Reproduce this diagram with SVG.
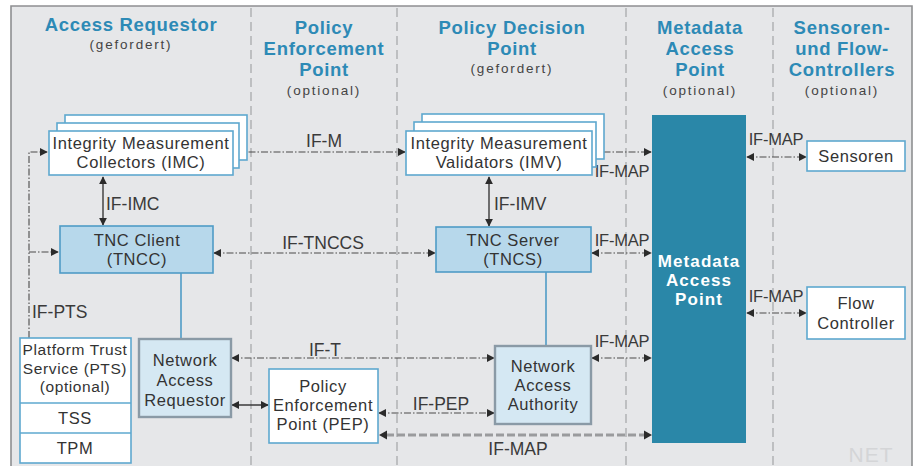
<svg xmlns="http://www.w3.org/2000/svg" width="918" height="466" viewBox="0 0 918 466">
  <defs>
    <style>
      .hdr { font-family: "Liberation Sans", Arial, sans-serif; font-weight: bold; font-size: 18.5px; fill: #2d8ab6; text-anchor: middle; letter-spacing: 0.7px; }
      .sub { font-family: "Liberation Sans", Arial, sans-serif; font-size: 13.5px; fill: #444; text-anchor: middle; letter-spacing: 1.8px; }
      .lbl { font-family: "Liberation Sans", Arial, sans-serif; font-size: 16.5px; fill: #333; text-anchor: middle; letter-spacing: 0.6px; }
      .pts { font-family: "Liberation Sans", Arial, sans-serif; font-size: 15.5px; fill: #333; text-anchor: middle; letter-spacing: 0.6px; }
      .if { font-family: "Liberation Sans", Arial, sans-serif; font-size: 17.5px; fill: #3a3a3a; }
      .ifs { font-family: "Liberation Sans", Arial, sans-serif; font-size: 16.5px; fill: #3a3a3a; letter-spacing: -0.2px; text-anchor: middle; }
      .mapt { font-family: "Liberation Sans", Arial, sans-serif; font-weight: bold; font-size: 17px; fill: #ffffff; text-anchor: middle; letter-spacing: 1.1px; }
      .white { fill: #ffffff; stroke: #5ea8cf; stroke-width: 1.6; }
      .cyan { fill: #b7d8eb; stroke: #4f9cc6; stroke-width: 1.6; }
      .pale { fill: #d5e8f3; stroke: #8a9aa6; stroke-width: 2.4; }
      .div { stroke: #a9aaac; stroke-width: 1.3; stroke-dasharray: 9 5; fill: none; }
      .conn { stroke: #4a4a4a; stroke-width: 1.1; stroke-dasharray: 7 2 1.5 2; fill: none; }
      .solid { stroke: #3a3a3a; stroke-width: 1.4; fill: none; }
      .feed { stroke: #4f9cc6; stroke-width: 1.6; fill: none; }
      .thick { stroke: #9a9b9d; stroke-width: 3; stroke-dasharray: 8 3; fill: none; }
    </style>
    <marker id="ah" viewBox="0 0 10 10" refX="9" refY="5" markerWidth="8" markerHeight="9" markerUnits="userSpaceOnUse" orient="auto-start-reverse">
      <path d="M0,0 L10,5 L0,10 z" fill="#2b2b2b"/>
    </marker>
  </defs>

  <!-- page and frame -->
  <rect x="0" y="0" width="918" height="466" fill="#ffffff"/>
  <path d="M11,467 V6 H912 V467" fill="#e6e7e9" stroke="#8e8f91" stroke-width="1.6"/>

  <!-- column dividers -->
  <g id="dividers">
    <line class="div" x1="251" y1="8" x2="251" y2="466"/>
    <line class="div" x1="397" y1="8" x2="397" y2="466"/>
    <line class="div" x1="626" y1="8" x2="626" y2="466"/>
    <line class="div" x1="773" y1="8" x2="773" y2="466"/>
  </g>

  <!-- column headings -->
  <g id="headings">
    <text class="hdr" x="131" y="31">Access Requestor</text>
    <text class="sub" x="131" y="49">(gefordert)</text>

    <text class="hdr" x="324" y="34">Policy</text>
    <text class="hdr" x="324" y="55">Enforcement</text>
    <text class="hdr" x="324" y="76">Point</text>
    <text class="sub" x="324" y="95">(optional)</text>

    <text class="hdr" x="512" y="34">Policy Decision</text>
    <text class="hdr" x="512" y="55">Point</text>
    <text class="sub" x="512" y="73">(gefordert)</text>

    <text class="hdr" x="700" y="34">Metadata</text>
    <text class="hdr" x="700" y="55">Access</text>
    <text class="hdr" x="700" y="76">Point</text>
    <text class="sub" x="700" y="95">(optional)</text>

    <text class="hdr" x="842" y="34">Sensoren-</text>
    <text class="hdr" x="842" y="55">und Flow-</text>
    <text class="hdr" x="842" y="76">Controllers</text>
    <text class="sub" x="842" y="95">(optional)</text>
  </g>

  <!-- connectors -->
  <g id="connectors">
    <!-- IF-PTS trunk -->
    <path class="conn" d="M29,338 V152 H47" marker-end="url(#ah)"/>
    <path class="conn" d="M29,252 H58" marker-end="url(#ah)"/>
    <!-- IF-M -->
    <line class="conn" x1="236" y1="152" x2="405" y2="152" marker-start="url(#ah)" marker-end="url(#ah)"/>
    <!-- IF-IMC / IF-IMV -->
    <line class="solid" x1="103" y1="177" x2="103" y2="225" marker-start="url(#ah)" marker-end="url(#ah)"/>
    <line class="solid" x1="489" y1="177" x2="489" y2="226" marker-start="url(#ah)" marker-end="url(#ah)"/>
    <!-- IF-TNCCS -->
    <line class="conn" x1="214" y1="253" x2="435" y2="253" marker-start="url(#ah)" marker-end="url(#ah)"/>
    <!-- IF-MAP links into the MAP -->
    <line class="conn" x1="591" y1="152" x2="651" y2="152" marker-start="url(#ah)" marker-end="url(#ah)"/>
    <line class="conn" x1="592" y1="253" x2="651" y2="253" marker-start="url(#ah)" marker-end="url(#ah)"/>
    <line class="conn" x1="592" y1="358" x2="651" y2="358" marker-start="url(#ah)" marker-end="url(#ah)"/>
    <line class="conn" x1="747" y1="157" x2="806" y2="157" marker-start="url(#ah)" marker-end="url(#ah)"/>
    <line class="conn" x1="747" y1="313" x2="806" y2="313" marker-start="url(#ah)" marker-end="url(#ah)"/>
    <!-- TNCC -> NAR, TNCS -> NAA -->
    <line class="feed" x1="181" y1="273" x2="181" y2="339"/>
    <line class="feed" x1="546" y1="272" x2="546" y2="346"/>
    <!-- IF-T -->
    <line class="conn" x1="232" y1="358" x2="494" y2="358" marker-start="url(#ah)" marker-end="url(#ah)"/>
    <!-- NAR <-> PEP -->
    <line class="solid" x1="232" y1="405" x2="268" y2="405" marker-start="url(#ah)" marker-end="url(#ah)"/>
    <!-- IF-PEP -->
    <line class="conn" x1="379" y1="413" x2="494" y2="413" marker-start="url(#ah)" marker-end="url(#ah)"/>
    <!-- IF-MAP from PEP -->
    <line class="thick" x1="386" y1="435" x2="644" y2="435"/>
    <path d="M379,435 l8,-4.5 v9 z M652,435 l-8,-4.5 v9 z" fill="#2b2b2b"/>
  </g>

  <!-- interface labels -->
  <g id="labels">
    <text class="if" x="324" y="147" text-anchor="middle">IF-M</text>
    <text class="if" x="106" y="210">IF-IMC</text>
    <text class="if" x="494" y="210">IF-IMV</text>
    <text class="if" x="323" y="249" text-anchor="middle">IF-TNCCS</text>
    <text class="if" x="32" y="318">IF-PTS</text>
    <text class="if" x="325" y="356" text-anchor="middle">IF-T</text>
    <text class="if" x="441" y="410" text-anchor="middle">IF-PEP</text>
    <text class="if" x="518" y="455" text-anchor="middle">IF-MAP</text>
    <text class="ifs" x="622" y="177">IF-MAP</text>
    <text class="ifs" x="622" y="246">IF-MAP</text>
    <text class="ifs" x="622" y="347">IF-MAP</text>
    <text class="ifs" x="776" y="145">IF-MAP</text>
    <text class="ifs" x="776" y="302">IF-MAP</text>
  </g>

  <!-- Access Requestor -->
  <g id="imc">
    <rect class="white" x="65" y="115" width="182" height="45"/>
    <rect class="white" x="57" y="123" width="182" height="45"/>
    <rect class="white" x="49" y="131" width="184" height="44"/>
    <text class="lbl" x="141" y="149">Integrity Measurement</text>
    <text class="lbl" x="141" y="168">Collectors (IMC)</text>
  </g>
  <g id="tncc">
    <rect class="cyan" x="60" y="226" width="153" height="47"/>
    <text class="lbl" x="137" y="246">TNC Client</text>
    <text class="lbl" x="137" y="265">(TNCC)</text>
  </g>
  <g id="pts">
    <rect class="white" x="20" y="338" width="111" height="125"/>
    <line x1="20" y1="403" x2="131" y2="403" stroke="#5ea8cf" stroke-width="1.6"/>
    <line x1="20" y1="433" x2="131" y2="433" stroke="#5ea8cf" stroke-width="1.6"/>
    <text class="pts" x="75" y="355">Platform Trust</text>
    <text class="pts" x="75" y="374">Service (PTS)</text>
    <text class="pts" x="75" y="392">(optional)</text>
    <text class="lbl" x="75" y="424">TSS</text>
    <text class="lbl" x="75" y="454">TPM</text>
  </g>
  <g id="nar">
    <rect class="pale" x="139" y="339" width="92" height="78"/>
    <text class="lbl" x="185" y="366">Network</text>
    <text class="lbl" x="185" y="386">Access</text>
    <text class="lbl" x="185" y="406">Requestor</text>
  </g>

  <!-- Policy Enforcement Point -->
  <g id="pep">
    <rect class="white" x="269" y="369" width="109" height="74"/>
    <text class="lbl" x="323" y="392">Policy</text>
    <text class="lbl" x="323" y="411">Enforcement</text>
    <text class="lbl" x="323" y="430">Point (PEP)</text>
  </g>

  <!-- Policy Decision Point -->
  <g id="imv">
    <rect class="white" x="422" y="114" width="182" height="45"/>
    <rect class="white" x="414" y="122" width="182" height="45"/>
    <rect class="white" x="406" y="131" width="186" height="44"/>
    <text class="lbl" x="499" y="149">Integrity Measurement</text>
    <text class="lbl" x="499" y="168">Validators (IMV)</text>
  </g>
  <g id="tncs">
    <rect class="cyan" x="436" y="227" width="155" height="45"/>
    <text class="lbl" x="513" y="246">TNC Server</text>
    <text class="lbl" x="513" y="265">(TNCS)</text>
  </g>
  <g id="naa">
    <rect class="pale" x="495" y="346" width="96" height="78"/>
    <text class="lbl" x="543" y="372">Network</text>
    <text class="lbl" x="543" y="391">Access</text>
    <text class="lbl" x="543" y="410">Authority</text>
  </g>

  <!-- Metadata Access Point -->
  <g id="map">
    <rect x="652" y="115" width="94" height="328" fill="#2a87a8"/>
    <text class="mapt" x="699" y="267">Metadata</text>
    <text class="mapt" x="699" y="286">Access</text>
    <text class="mapt" x="699" y="305">Point</text>
  </g>

  <!-- Sensors and flow controllers -->
  <g id="sensoren">
    <rect class="white" x="807" y="141" width="98" height="30"/>
    <text class="lbl" x="856" y="162">Sensoren</text>
  </g>
  <g id="flow">
    <rect class="white" x="807" y="287" width="98" height="52"/>
    <text class="lbl" x="856" y="309">Flow</text>
    <text class="lbl" x="856" y="329">Controller</text>
  </g>

  <!-- brand mark -->
  <text x="871" y="462" text-anchor="middle" font-family="Liberation Sans, sans-serif" font-size="21" fill="#d4d5d7" letter-spacing="1">NET</text>
</svg>
